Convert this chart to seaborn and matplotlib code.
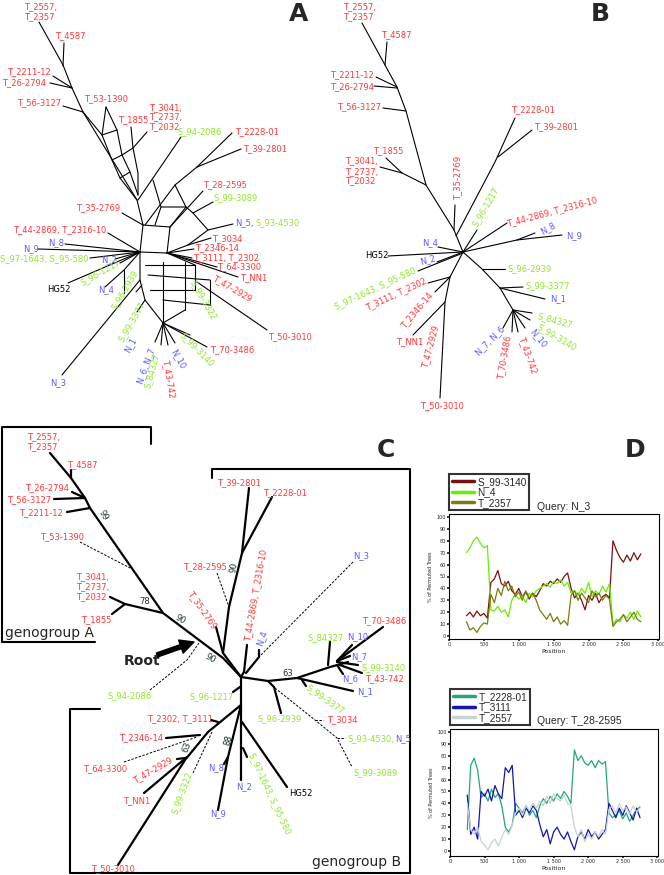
import numpy as np
import pandas as pd
import seaborn as sns
import matplotlib.pyplot as plt

sns.set_theme(style="white")
plt.rcParams['font.family'] = ['DejaVu Sans']

RED, GREEN, BLUE, BLACK, BOOT = '#ff3838', '#8ee62c', '#5a5aff', '#000000', '#1c3528'
COL = {'r': RED, 'g': GREEN, 'b': BLUE, 'k': BLACK, 'x': BOOT}

# ---------------- panel D data (% of permuted trees) ----------------
positions = list(range(250, 2800, 50))

n3_s99_3140 = [17, 20, 16, 21, 17, 19, 15, 45, 48, 55, 44, 42, 46, 38, 35, 40, 33, 37, 31, 36,
               33, 38, 44, 42, 46, 44, 48, 45, 50, 53, 40, 32, 36, 30, 22, 34, 30, 36, 28, 33,
               35, 32, 80, 72, 66, 62, 68, 63, 70, 64, 69]
n3_n4 = [70, 74, 80, 83, 78, 74, 76, 22, 21, 25, 20, 22, 16, 30, 35, 31, 34, 28, 36, 33,
         38, 40, 42, 44, 41, 46, 44, 47, 42, 45, 36, 38, 34, 40, 36, 45, 33, 38, 35, 42,
         37, 44, 10, 14, 12, 18, 15, 20, 14, 21, 16]
n3_t2357 = [12, 5, 7, 3, 8, 11, 10, 35, 28, 40, 34, 46, 38, 42, 33, 37, 30, 38, 32, 36,
            30, 22, 18, 14, 19, 12, 16, 10, 13, 9, 34, 38, 30, 36, 32, 28, 38, 33, 36, 30,
            34, 31, 8, 12, 14, 18, 12, 16, 20, 14, 12]

t28_t2228 = [18, 72, 78, 68, 45, 48, 42, 52, 45, 48, 38, 20, 16, 22, 40, 36, 32, 38, 30, 34,
             28, 38, 44, 40, 46, 42, 48, 44, 50, 46, 40, 85, 76, 80, 74, 72, 76, 70, 76, 73,
             75, 32, 28, 30, 34, 27, 32, 25, 30, 35, 37]
t28_t3111 = [47, 14, 20, 10, 50, 46, 52, 42, 55, 48, 44, 70, 66, 72, 30, 34, 28, 36, 32, 38,
             34, 22, 12, 18, 6, 16, 20, 14, 10, 16, 8, 1, 12, 16, 10, 18, 12, 16, 10, 14,
             18, 40, 34, 28, 36, 30, 38, 32, 26, 36, 28]
t28_t2557 = [40, 18, 14, 20, 8, 5, 1, 7, 10, 4, 12, 18, 14, 22, 32, 36, 30, 38, 34, 40,
             36, 42, 38, 46, 40, 48, 44, 42, 47, 40, 38, 20, 12, 18, 8, 14, 10, 16, 12, 18,
             14, 35, 38, 32, 40, 34, 37, 31, 38, 33, 36]

# ---------------- panel A: network (node coords in picture px) ----------------
A_edges = [
    [(39, 22), (63, 65), (72, 88), (83, 112), (137, 200), (143, 225), (140, 252)],
    [(64, 43), (63, 66)], [(53, 76), (72, 88)], [(50, 83), (72, 88)], [(63, 106), (83, 112)],
    [(106, 107), (102, 135), (112, 160), (120, 178), (137, 200)],
    [(106, 107), (117, 130), (122, 155), (130, 172), (138, 195)],
    [(102, 135), (117, 130)], [(112, 160), (122, 155)], [(120, 178), (130, 172)],
    [(131, 127), (133, 148), (138, 173), (138, 195)], [(122, 155), (133, 148)],
    [(147, 132), (133, 148)], [(83, 112), (102, 135)],
    [(181, 137), (138, 200)], [(232, 133), (197, 167)], [(241, 149), (197, 167)],
    [(197, 167), (175, 185), (145, 225)],
    [(153, 180), (161, 207), (186, 207), (175, 185)], [(161, 207), (155, 225)],
    [(203, 191), (170, 227)], [(213, 202), (193, 213)], [(186, 207), (193, 213), (208, 230)],
    [(233, 224), (208, 230), (188, 245)], [(122, 213), (143, 225)],
    [(143, 225), (170, 227), (167, 253)], [(170, 227), (186, 207)],
    [(108, 233), (140, 252)], [(65, 244), (140, 252)], [(38, 249), (140, 252)],
    [(90, 258), (140, 252)], [(115, 259), (140, 252)], [(120, 263), (140, 252)],
    [(68, 283), (140, 252)], [(105, 287), (124, 270), (140, 252)], [(124, 270), (124, 293)],
    [(62, 375), (140, 280)], [(140, 252), (140, 280), (145, 300), (163, 323)],
    [(140, 252), (167, 253)], [(211, 238), (188, 245), (167, 253)],
    [(194, 249), (167, 253)], [(192, 258), (167, 253)], [(217, 267), (167, 253)],
    [(238, 277), (167, 253)], [(267, 330), (197, 282)],
    [(145, 265), (195, 265)], [(148, 275), (210, 280)], [(150, 290), (195, 290)],
    [(163, 300), (210, 305)], [(163, 262), (163, 323)], [(185, 262), (185, 310)],
    [(210, 280), (210, 305)], [(195, 265), (195, 290)], [(167, 253), (195, 265)],
    [(163, 323), (207, 347)], [(163, 323), (190, 335)], [(163, 323), (175, 343)],
    [(163, 323), (168, 345)], [(163, 323), (161, 345)], [(163, 323), (155, 342)],
    [(145, 300), (137, 312)], [(142, 285), (136, 292)], [(185, 310), (163, 323)],
]
A_labels = [
    ("T_2557,", 24, 7, 'r', 0), ("T_2357", 24, 17, 'r', 0), ("T_4587", 55, 36, 'r', 0),
    ("T_2211-12", 7, 72, 'r', 0), ("T_26-2794", 2, 83, 'r', 0), ("T_56-3127", 17, 103, 'r', 0),
    ("T_53-1390", 84, 99, 'r', 0), ("T_3041,", 149, 108, 'r', 0), ("T_2737,", 149, 117, 'r', 0),
    ("T_2032", 149, 127, 'r', 0), ("T_1855", 118, 120, 'r', 0), ("S_94-2086", 178, 132, 'g', 0),
    ("T_2228-01", 235, 132, 'r', 0), ("T_39-2801", 243, 149, 'r', 0), ("T_28-2595", 203, 185, 'r', 0),
    ("S_99-3089", 214, 198, 'g', 0), ("T_35-2769", 76, 208, 'r', 0), ("N_5,", 235, 223, 'b', 0),
    ("S_93-4530", 255, 223, 'g', 0), ("T_44-2869, T_2316-10", 13, 230, 'r', 0),
    ("N_8", 48, 243, 'b', 0), ("N_9", 23, 249, 'b', 0), ("S_97-1643, S_95-580", 0, 259, 'g', 0),
    ("N_2", 101, 260, 'b', 0), ("S_96-1217", 100, 272, 'g', 30), ("HG52", 47, 289, 'k', 0),
    ("N_4", 98, 290, 'b', 0), ("T_3034", 212, 239, 'r', 0), ("T_2346-14", 195, 248, 'r', 0),
    ("T_3111, T_2302", 193, 258, 'r', 0), ("T_64-3300", 217, 267, 'r', 0),
    ("T_NN1", 240, 278, 'r', 0), ("T_47-2929", 232, 288, 'r', -30), ("T_50-3010", 268, 337, 'r', 0),
    ("T_70-3486", 210, 350, 'r', 0), ("S_96-2939", 125, 290, 'g', 60), ("S_99-3377", 132, 322, 'g', 60),
    ("N_1", 130, 345, 'b', 60), ("S_99-3322", 203, 300, 'g', -60), ("S_99-3140", 197, 350, 'g', -45),
    ("N_6, N_7", 146, 366, 'b', 70), ("S_84327", 152, 370, 'g', 75), ("T_43-742", 169, 378, 'r', -80),
    ("N_10", 178, 359, 'b', -60), ("N_3", 50, 383, 'b', 0),
]

# ---------------- panel B: tree ----------------
B_edges = [
    [(362, 23), (385, 65), (397, 87), (406, 111), (426, 185), (454, 230), (463, 252)],
    [(387, 42), (385, 65)], [(376, 77), (397, 87)], [(374, 86), (397, 88)], [(383, 108), (406, 111)],
    [(386, 158), (402, 173)], [(380, 167), (402, 173)], [(402, 173), (426, 185)],
    [(455, 205), (454, 230)], [(456, 236), (495, 162), (515, 118)], [(532, 130), (498, 157)],
    [(477, 230), (463, 252)], [(507, 223), (463, 252)],
    [(463, 252), (517, 240), (562, 235)], [(517, 240), (535, 233)],
    [(438, 247), (463, 252)], [(388, 256), (463, 252)], [(437, 262), (463, 252)],
    [(418, 271), (463, 253)], [(463, 252), (450, 277), (445, 302), (440, 398)],
    [(428, 283), (450, 277)], [(435, 292), (450, 277)], [(413, 335), (445, 302)],
    [(463, 252), (482, 269), (500, 288), (513, 310)], [(482, 269), (505, 269)],
    [(500, 288), (523, 287)], [(500, 288), (545, 299)],
    [(513, 310), (532, 313)], [(513, 310), (530, 320)], [(513, 310), (525, 328)],
    [(513, 310), (518, 332)], [(513, 310), (512, 332)], [(513, 310), (503, 328)],
]
B_labels = [
    ("T_2557,", 343, 7, 'r', 0), ("T_2357", 343, 17, 'r', 0), ("T_4587", 381, 35, 'r', 0),
    ("T_2211-12", 330, 75, 'r', 0), ("T_26-2794", 330, 87, 'r', 0), ("T_56-3127", 337, 107, 'r', 0),
    ("T_1855", 373, 151, 'r', 0), ("T_3041,", 345, 161, 'r', 0), ("T_2737,", 345, 172, 'r', 0),
    ("T_2032", 345, 181, 'r', 0), ("T_2228-01", 511, 110, 'r', 0), ("T_39-2801", 534, 127, 'r', 0),
    ("T_35-2769", 458, 178, 'r', 90), ("S_96-1217", 486, 207, 'g', 60),
    ("T_44-2869, T_2316-10", 552, 212, 'r', 15), ("N_8", 548, 228, 'b', 30), ("N_9", 566, 236, 'b', 0),
    ("N_4", 422, 243, 'b', 0), ("HG52", 365, 256, 'k', 0), ("N_2", 428, 260, 'b', 15),
    ("S_97-1643, S_95-580", 375, 288, 'g', 25), ("T_3111, T_2302", 396, 294, 'r', 25),
    ("T_2346-14", 417, 310, 'r', 50), ("T_NN1", 396, 342, 'r', 0), ("T_47-2929", 430, 347, 'r', 75),
    ("T_50-3010", 420, 406, 'r', 0), ("S_96-2939", 508, 269, 'g', 0), ("S_99-3377", 526, 286, 'g', 0),
    ("N_1", 550, 299, 'b', 0), ("S_84327", 555, 320, 'g', -15), ("S_99-3140", 557, 337, 'g', -30),
    ("N_10", 538, 338, 'b', -50), ("T_43-742", 528, 355, 'r', -70), ("T_70-3486", 505, 357, 'r', 80),
    ("N_7, N_6", 490, 341, 'b', 45),
]

# ---------------- panel C: rooted tree ----------------
C_edges = [
    [(50, 453), (71, 478), (85, 498), (90, 508), (163, 613), (223, 658), (241, 677)],
    [(71, 470), (71, 478)], [(72, 492), (85, 498)], [(54, 499), (85, 498)], [(67, 512), (90, 508)],
    [(110, 597), (125, 604), (163, 613)], [(112, 614), (125, 604)],
    [(249, 488), (242, 553), (229, 607), (223, 653), (241, 677)], [(272, 497), (242, 553)],
    [(216, 627), (223, 653)], [(247, 645), (244, 672), (241, 677)], [(259, 650), (259, 657), (246, 673)],
    [(241, 677), (268, 681), (297, 678), (330, 667), (348, 662)],
    [(383, 627), (337, 661)], [(330, 642), (328, 665)], [(352, 645), (337, 661)],
    [(350, 656), (337, 661)], [(358, 665), (337, 662)], [(362, 673), (340, 665)], [(343, 674), (337, 665)],
    [(353, 691), (297, 678)], [(302, 680), (306, 686)],
    [(281, 713), (274, 687), (268, 681)], [(241, 677), (241, 705)], [(233, 692), (240, 687)],
    [(211, 720), (218, 722)], [(241, 705), (208, 732), (185, 760), (118, 865)],
    [(166, 738), (200, 735)], [(177, 759), (185, 758)], [(144, 793), (187, 757)],
    [(241, 705), (228, 757), (218, 810)], [(228, 757), (224, 764)], [(241, 705), (241, 780)],
    [(243, 748), (247, 757)], [(242, 722), (287, 787)],
]
C_dashed = [
    [(80, 542), (130, 568)], [(217, 573), (229, 607)], [(353, 562), (259, 657)],
    [(275, 688), (315, 720), (337, 738), (352, 767)], [(315, 720), (323, 720)], [(337, 738), (345, 738)],
    [(124, 762), (197, 737)], [(193, 773), (212, 732)], [(150, 690), (187, 660), (199, 643)],
]
C_boxes = [
    [(151, 444), (151, 427), (2, 427), (2, 642), (95, 642)],
    [(212, 478), (212, 469), (410, 469), (410, 873), (70, 873), (70, 709), (100, 709)],
]
C_labels = [
    ("T_2557,", 27, 437, 'r', 0), ("T_2357", 27, 447, 'r', 0), ("T_4587", 67, 465, 'r', 0),
    ("T_26-2794", 25, 488, 'r', 0), ("T_56-3127", 7, 500, 'r', 0), ("T_2211-12", 19, 513, 'r', 0),
    ("T_53-1390", 40, 537, 'r', 0), ("T_3041,", 76, 577, 'r', 0), ("T_2737,", 76, 587, 'r', 0),
    ("T_2032", 76, 597, 'r', 0), ("T_1855", 81, 620, 'r', 0), ("T_39-2801", 217, 483, 'r', 0),
    ("T_2228-01", 263, 493, 'r', 0), ("T_28-2595", 183, 567, 'r', 0), ("T_35-2769", 202, 610, 'r', -55),
    ("T_44-2869, T_2316-10", 256, 595, 'r', 80), ("N_4", 262, 638, 'b', 70), ("N_3", 353, 556, 'b', 0),
    ("T_70-3486", 362, 621, 'r', 0), ("S_84327", 308, 638, 'g', 0), ("N_10", 347, 637, 'b', 0),
    ("N_7", 351, 657, 'b', 0), ("S_99-3140", 362, 668, 'g', 0), ("N_6", 342, 679, 'b', 0),
    ("T_43-742", 365, 679, 'r', 0), ("N_1", 357, 692, 'b', 0), ("S_99-3377", 325, 699, 'g', -35),
    ("S_96-2939", 257, 719, 'g', 0), ("T_3034", 327, 720, 'r', 0), ("S_93-4530,", 347, 739, 'g', 0),
    ("N_5", 395, 739, 'b', 0), ("S_99-3089", 353, 773, 'g', 0), ("S_94-2086", 107, 696, 'g', 0),
    ("S_96-1217", 190, 697, 'g', 0), ("T_2302, T_3111", 147, 719, 'r', 0), ("T_2346-14", 119, 738, 'r', 0),
    ("T_64-3300", 83, 769, 'r', 0), ("T_47-2929", 153, 770, 'r', 30), ("T_NN1", 123, 801, 'r', 0),
    ("S_99-3322", 182, 793, 'g', 70), ("N_8", 208, 768, 'b', 0), ("N_9", 210, 814, 'b', 0),
    ("N_2", 236, 787, 'b', 0), ("S_97-1643, S_95-580", 270, 793, 'g', -65), ("HG52", 289, 793, 'k', 0),
    ("T_50-3010", 91, 869, 'r', 0),
    ("99", 103, 515, 'x', -60), ("78", 139, 602, 'x', 0), ("90", 180, 619, 'x', -30),
    ("90", 210, 658, 'x', -30), ("90", 234, 567, 'x', 80), ("63", 282, 673, 'x', 0),
    ("63", 187, 747, 'x', 70), ("88", 228, 740, 'x', 75),
]


def draw_paths(ax, paths, lw, ls='-'):
    for p in paths:
        xs, ys = zip(*p)
        ax.plot(xs, ys, color='black', lw=lw, ls=ls, solid_capstyle='round')


def draw_labels(ax, labels, fs=6):
    for s, x, y, c, rot in labels:
        ax.text(x, y, s, color=COL[c], fontsize=fs, rotation=rot,
                ha='left' if rot == 0 else 'center', va='center', rotation_mode='anchor')


fig = plt.figure(figsize=(6.64, 8.75), dpi=100)
bg = fig.add_axes([0, 0, 1, 1])
bg.set_xlim(0, 664)
bg.set_ylim(875, 0)
bg.axis('off')

draw_paths(bg, A_edges, 0.8)
draw_labels(bg, A_labels)
draw_paths(bg, B_edges, 0.8)
draw_labels(bg, B_labels)
draw_paths(bg, C_edges, 1.6)
draw_paths(bg, C_dashed, 0.7, ls=(0, (2.5, 1.5)))
draw_paths(bg, C_boxes, 1.5)
draw_labels(bg, C_labels)

bg.text(5, 633, "genogroup A", fontsize=10, va='center', ha='left')
bg.text(312, 862, "genogroup B", fontsize=10, va='center', ha='left')
bg.text(124, 661, "Root", fontsize=10, fontweight='bold', va='center', ha='left')
bg.annotate('', xy=(194, 642), xytext=(157, 655),
            arrowprops=dict(facecolor='black', edgecolor='black', width=3, headwidth=10,
                            headlength=10, shrink=0))
for letter, x, y in [("A", 299, 14), ("B", 600, 14), ("C", 386, 450), ("D", 635, 450)]:
    bg.text(x, y, letter, fontsize=18, fontweight='bold', ha='center', va='center')

# ---------------- panel D ----------------
LEG_FONT = ['Liberation Sans', 'DejaVu Sans']


def rdp_panel(rect, series, palette, title, ylim):
    ax = fig.add_axes(rect)
    df = pd.DataFrame({'Position': positions * len(series),
                       'Pct': sum([v for _, v in series], []),
                       'Sequence': sum([[k] * len(positions) for k, _ in series], [])})
    sns.lineplot(data=df, x='Position', y='Pct', hue='Sequence', palette=palette,
                 hue_order=[k for k, _ in series], lw=0.9, ax=ax)
    ax.set_xlim(0, 3010)
    ax.set_ylim(*ylim)
    ax.set_xticks(range(0, 3001, 500))
    ax.set_xticklabels(['0', '500', '1 000', '1 500', '2 000', '2 500', '3 000'])
    ax.set_yticks(range(0, 101, 10))
    ax.tick_params(labelsize=3.5, length=1.5, pad=1, direction='out', bottom=True, left=True)
    ax.set_xlabel('Position', fontsize=4.5, labelpad=1)
    ax.set_ylabel('% of Permuted Trees', fontsize=3.5, labelpad=2)
    for sp in ax.spines.values():
        sp.set_color('black')
        sp.set_linewidth(0.8)
    leg = ax.legend(loc='lower left', bbox_to_anchor=(0.0, 1.03),
                    prop={'family': LEG_FONT, 'size': 7.2},
                    frameon=True, fancybox=False, borderpad=0.25, labelspacing=0.05,
                    handlelength=2.2, handletextpad=0.4, borderaxespad=0)
    leg.get_frame().set_edgecolor('black')
    leg.get_frame().set_linewidth(1.5)
    for ln in leg.get_lines():
        ln.set_linewidth(2.5)
    ax.text(0.42, 1.02, title, transform=ax.transAxes, fontsize=7.5, family=LEG_FONT,
            ha='left', va='bottom')
    return ax


rdp_panel([449 / 664, 1 - 639 / 875, 210 / 664, 125 / 875],
          [('S_99-3140', n3_s99_3140), ('N_4', n3_n4), ('T_2357', n3_t2357)],
          ['#7a0f12', '#66f000', '#7d7a10'], 'Query: N_3', (-2.5, 102.5))
rdp_panel([450 / 664, 1 - 856 / 875, 208 / 664, 127 / 875],
          [('T_2228-01', t28_t2228), ('T_3111', t28_t3111), ('T_2557', t28_t2557)],
          ['#22a67a', '#1414b4', '#c8d2d2'], 'Query: T_28-2595', (-4.2, 102.5))

fig.savefig('out.png', dpi=100)
